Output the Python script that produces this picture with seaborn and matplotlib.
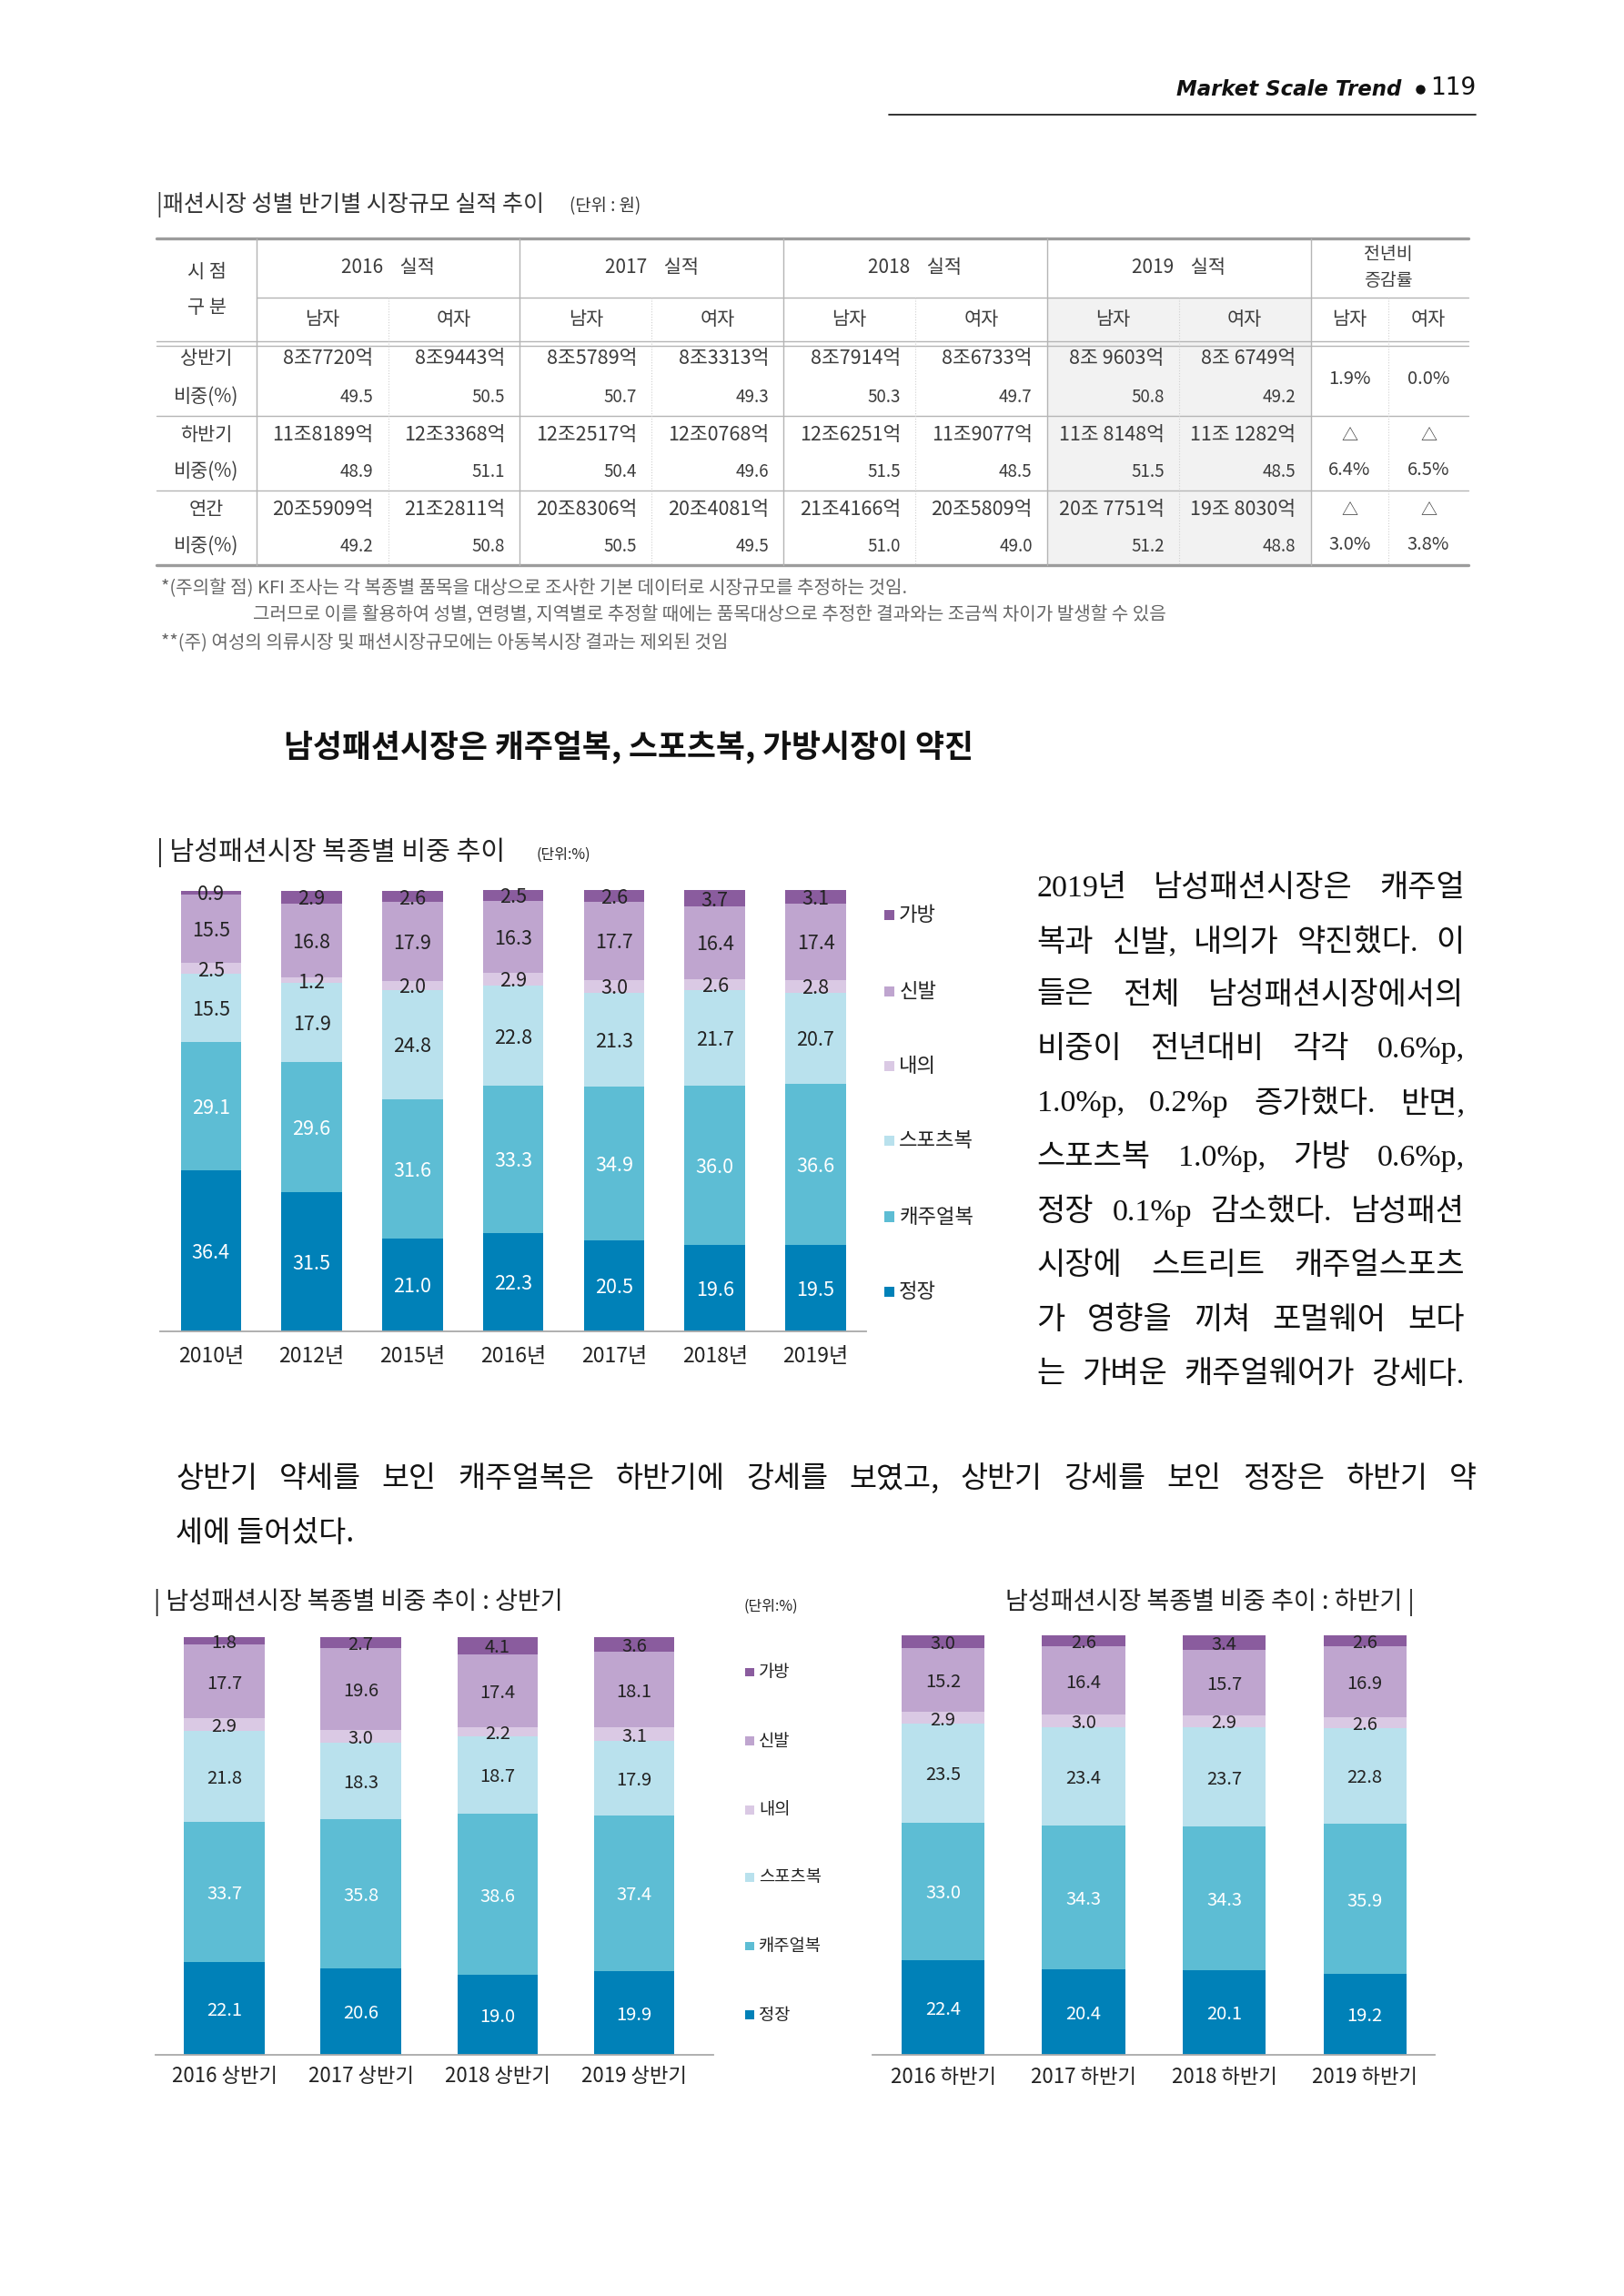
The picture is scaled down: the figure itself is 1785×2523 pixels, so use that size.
import numpy as np
import pandas as pd
import matplotlib
matplotlib.use('Agg')
import matplotlib.pyplot as plt
import seaborn as sns
from matplotlib.patches import Rectangle

# ---------------- data ----------------
categories = ['정장', '캐주얼복', '스포츠복', '내의', '신발', '가방']  # bottom -> top
colors = ['#0081b8', '#5dbdd4', '#b9e1ed', '#dac9e4', '#bfa5cf', '#8a5c9e']
text_colors = ['white', 'white', '#222222', '#222222', '#222222', '#222222']

# 남성패션시장 복종별 비중 추이 (연간)
years = ['2010년', '2012년', '2015년', '2016년', '2017년', '2018년', '2019년']
suit = [36.4, 31.5, 21.0, 22.3, 20.5, 19.6, 19.5]
casual = [29.1, 29.6, 31.6, 33.3, 34.9, 36.0, 36.6]
sports = [15.5, 17.9, 24.8, 22.8, 21.3, 21.7, 20.7]
inner = [2.5, 1.2, 2.0, 2.9, 3.0, 2.6, 2.8]
shoes = [15.5, 16.8, 17.9, 16.3, 17.7, 16.4, 17.4]
bags = [0.9, 2.9, 2.6, 2.5, 2.6, 3.7, 3.1]

# 상반기
h1_labels = ['2016 상반기', '2017 상반기', '2018 상반기', '2019 상반기']
h1_suit = [22.1, 20.6, 19.0, 19.9]
h1_casual = [33.7, 35.8, 38.6, 37.4]
h1_sports = [21.8, 18.3, 18.7, 17.9]
h1_inner = [2.9, 3.0, 2.2, 3.1]
h1_shoes = [17.7, 19.6, 17.4, 18.1]
h1_bags = [1.8, 2.7, 4.1, 3.6]

# 하반기
h2_labels = ['2016 하반기', '2017 하반기', '2018 하반기', '2019 하반기']
h2_suit = [22.4, 20.4, 20.1, 19.2]
h2_casual = [33.0, 34.3, 34.3, 35.9]
h2_sports = [23.5, 23.4, 23.7, 22.8]
h2_inner = [2.9, 3.0, 2.9, 2.6]
h2_shoes = [15.2, 16.4, 15.7, 16.9]
h2_bags = [3.0, 2.6, 3.4, 2.6]

# 패션시장 성별 반기별 시장규모 표
table_years = ['2016', '2017', '2018', '2019']
row_names = ['상반기', '비중(%)', '하반기', '비중(%)', '연간', '비중(%)']
h1_amount = ['8조7720억', '8조9443억', '8조5789억', '8조3313억', '8조7914억', '8조6733억', '8조 9603억', '8조 6749억']
h1_share = ['49.5', '50.5', '50.7', '49.3', '50.3', '49.7', '50.8', '49.2']
h2_amount = ['11조8189억', '12조3368억', '12조2517억', '12조0768억', '12조6251억', '11조9077억', '11조 8148억', '11조 1282억']
h2_share = ['48.9', '51.1', '50.4', '49.6', '51.5', '48.5', '51.5', '48.5']
yr_amount = ['20조5909억', '21조2811억', '20조8306억', '20조4081억', '21조4166억', '20조5809억', '20조 7751억', '19조 8030억']
yr_share = ['49.2', '50.8', '50.5', '49.5', '51.0', '49.0', '51.2', '48.8']
yoy_h1 = ['1.9%', '0.0%']
yoy_h2 = ['6.4%', '6.5%']
yoy_yr = ['3.0%', '3.8%']

para1 = ['2019년 남성패션시장은 캐주얼',
         '복과 신발, 내의가 약진했다. 이',
         '들은 전체 남성패션시장에서의',
         '비중이 전년대비 각각 0.6%p,',
         '1.0%p, 0.2%p 증가했다. 반면,',
         '스포츠복 1.0%p, 가방 0.6%p,',
         '정장 0.1%p 감소했다. 남성패션',
         '시장에 스트리트 캐주얼스포츠',
         '가 영향을 끼쳐 포멀웨어 보다',
         '는 가벼운 캐주얼웨어가 강세다.']
para2 = ['상반기 약세를 보인 캐주얼복은 하반기에 강세를 보였고, 상반기 강세를 보인 정장은 하반기 약',
         '세에 들어섰다.']

# ---------------- page ----------------
sns.set_theme(style='white')
plt.rcParams['font.family'] = ['Noto Sans CJK KR', 'DejaVu Sans']

W, H = 1109, 1568  # layout units (reference shrunk to 1109 wide)
fig = plt.figure(figsize=(17.85, 25.23), dpi=100)
fig.patch.set_facecolor('white')
page = fig.add_axes([0, 0, 1, 1])
page.set_xlim(0, W)
page.set_ylim(H, 0)
page.axis('off')
renderer = fig.canvas.get_renderer()


def put(x, y, s, fs, **kw):
    kw.setdefault('va', 'center')
    kw.setdefault('color', '#222222')
    return page.text(x, y, s, fontsize=fs, **kw)


def justify(line, x0, x1, y, fs, **kw):
    words = line.split(' ')
    texts = [put(0, y, w, fs, ha='left', **kw) for w in words]
    widths = [t.get_window_extent(renderer).width * W / 1785 for t in texts]
    gap = (x1 - x0 - sum(widths)) / max(len(words) - 1, 1)
    x = x0
    for t, w in zip(texts, widths):
        t.set_x(x)
        x += w + gap


# header
put(957, 61, 'Market Scale Trend', 16.5, ha='right', style='italic', weight='bold',
    family=['DejaVu Sans'], color='#111111')
page.plot([970], [61], marker='o', ms=6.5, color='#111111')
put(1008, 60, '119', 19, ha='right', family=['DejaVu Sans'], color='#111111')
page.plot([607, 1008], [78, 78], color='#222222', lw=1.3)

# table title
put(107, 140, '|패션시장 성별 반기별 시장규모 실적 추이', 18, ha='left', color='#333333')
put(389, 141, '(단위 : 원)', 13.5, ha='left', color='#333333')

# table grid
page.add_patch(Rectangle((715, 203), 180, 183, facecolor='#f2f2f2', lw=0))
line_c = '#b5b5b5'
page.plot([107, 1003], [163, 163], color='#9c9c9c', lw=2.4)
page.plot([175, 1003], [203, 203], color=line_c, lw=1)
page.plot([107, 1003], [233, 233], color=line_c, lw=1)
page.plot([107, 1003], [236, 236], color=line_c, lw=1)
page.plot([107, 1003], [284, 284], color=line_c, lw=1)
page.plot([107, 1003], [335, 335], color=line_c, lw=1)
page.plot([107, 1003], [386, 386], color='#9c9c9c', lw=2.4)
for x in [175, 355, 535, 715, 895]:
    page.plot([x, x], [163, 386], color=line_c, lw=1)
for x in [265, 445, 625, 805, 948]:
    page.plot([x, x], [203, 386], color='#d0d0d0', lw=0.8, ls=':')

tc = '#3c3c3c'
tfs = 15
put(141, 186, '시 점', tfs, ha='center', color=tc)
put(141, 210, '구 분', tfs, ha='center', color=tc)
for i, yr in enumerate(table_years):
    put(265 + 180 * i, 183, f'{yr}    실적', tfs, ha='center', color=tc)
put(948, 174, '전년비', 14, ha='center', color=tc)
put(948, 192, '증감률', 14, ha='center', color=tc)
sub_centers = [220, 310, 400, 490, 580, 670, 760, 850, 921.5, 975.5]
for i, c in enumerate(sub_centers):
    put(c, 218, '남자' if i % 2 == 0 else '여자', tfs, ha='center', color=tc)

row_y = [245, 271, 297, 322, 348, 373]
for name, y in zip(row_names, row_y):
    put(141, y, name, tfs, ha='center', color=tc)
col_right = [255, 345, 435, 525, 615, 705, 795, 885]
for vals, y, fs in [(h1_amount, 245, 15.5), (h1_share, 271, 13.5),
                    (h2_amount, 297, 15.5), (h2_share, 322, 13.5),
                    (yr_amount, 348, 15.5), (yr_share, 373, 13.5)]:
    for v, xr in zip(vals, col_right):
        put(xr, y, v, fs, ha='right', color=tc)
for v, xc in zip(yoy_h1, [921.5, 975.5]):
    put(xc, 259, v, 14.5, ha='center', color=tc)
for vals, y in [(yoy_h2, 297), (yoy_yr, 348)]:
    for v, xc in zip(vals, [921.5, 975.5]):
        put(xc, y + 1, '△', 13, ha='center', color=tc)
        put(xc, y + 24, v, 14.5, ha='center', color=tc)

# footnotes
fc = '#666666'
put(110, 402, '*(주의할 점) KFI 조사는 각 복종별 품목을 대상으로 조사한 기본 데이터로 시장규모를 추정하는 것임.', 14.5, ha='left', color=fc)
put(173, 420, '그러므로 이를 활용하여 성별, 연령별, 지역별로 추정할 때에는 품목대상으로 추정한 결과와는 조금씩 차이가 발생할 수 있음', 14.5, ha='left', color=fc)
put(110, 439, '**(주) 여성의 의류시장 및 패션시장규모에는 아동복시장 결과는 제외된 것임', 14.5, ha='left', color=fc)

# section heading
put(429, 510, '남성패션시장은 캐주얼복, 스포츠복, 가방시장이 약진', 25, ha='center',
    weight='bold', color='#111111')

# paragraphs
serif = ['Liberation Serif', 'Noto Sans CJK KR']
for line, y in zip(para1, [607, 644, 680, 717, 754, 791, 828, 865, 902, 939]):
    justify(line, 708, 1000, y, 24.5, family=serif, color='#111111')
justify(para2[0], 120, 1008, 1010, 23.5, color='#111111')
put(120, 1047, para2[1], 23.5, ha='left', color='#111111')


# ---------------- charts ----------------
def add_ax(x0, x1, ytop, ybase):
    return fig.add_axes([x0 / W, 1 - ybase / H, (x1 - x0) / W, (ybase - ytop) / H])


def stacked(ax, labels, series, width, vfs, tfs, pad, xmax):
    df = pd.DataFrame(dict(zip(categories, series)), index=labels)
    cum = df.cumsum(axis=1)
    for cat, col in zip(reversed(categories), reversed(colors)):
        sns.barplot(x=labels, y=cum[cat].values, color=col, width=width,
                    saturation=1, linewidth=0, errorbar=None, ax=ax)
    for cat, tcol in zip(categories, text_colors):
        mids = cum[cat] - df[cat] / 2
        for i, (m, v) in enumerate(zip(mids, df[cat])):
            ax.text(i, m, f'{v:.1f}', ha='center', va='center_baseline',
                    color=tcol, fontsize=vfs)
    ax.set_ylim(0, 100)
    ax.set_xlim(-0.5, xmax)
    ax.set_yticks([])
    ax.set_xlabel('')
    ax.set_ylabel('')
    sns.despine(ax=ax, left=True)
    ax.spines['bottom'].set_color('#a9a9a9')
    ax.spines['bottom'].set_linewidth(1.3)
    ax.tick_params(axis='x', length=0, pad=pad, labelsize=tfs, colors='#222222')
    ax.patch.set_alpha(0)


def legend(x, ys, size, fs):
    for cat, col, y in zip(reversed(categories), reversed(colors), ys):
        page.add_patch(Rectangle((x, y - size / 2), size, size, facecolor=col, lw=0))
        put(x + size + 3, y, cat, fs, ha='left', color='#222222')


# chart 1
put(107, 582, '| 남성패션시장 복종별 비중 추이', 21, ha='left')
put(366, 584, '(단위:%)', 11.5, ha='left')
ax1 = add_ax(109.6, 591.4, 608, 909)
stacked(ax1, years, [suit, casual, sports, inner, shoes, bags], 0.6, 15.5, 16.5, 12, 6.5)
legend(604, [625, 677, 728, 779, 831, 882], 7, 16)

# chart 2: 상반기
put(105, 1094, '| 남성패션시장 복종별 비중 추이 : 상반기', 19.5, ha='left')
put(508, 1097, '(단위:%)', 11.5, ha='left')
ax2 = add_ax(106.5, 487.2, 1118, 1403)
stacked(ax2, h1_labels, [h1_suit, h1_casual, h1_sports, h1_inner, h1_shoes, h1_bags],
        0.59, 14.5, 16, 9, 3.58)
legend(509, [1142, 1189, 1236, 1282, 1329, 1376], 6, 13.5)

# chart 3: 하반기
put(966, 1094, '남성패션시장 복종별 비중 추이 : 하반기 |', 19.5, ha='right')
ax3 = add_ax(596, 980, 1117, 1403)
stacked(ax3, h2_labels, [h2_suit, h2_casual, h2_sports, h2_inner, h2_shoes, h2_bags],
        0.59, 14.5, 16, 10, 3.5)

fig.savefig('out.png', dpi=100, facecolor='white')
